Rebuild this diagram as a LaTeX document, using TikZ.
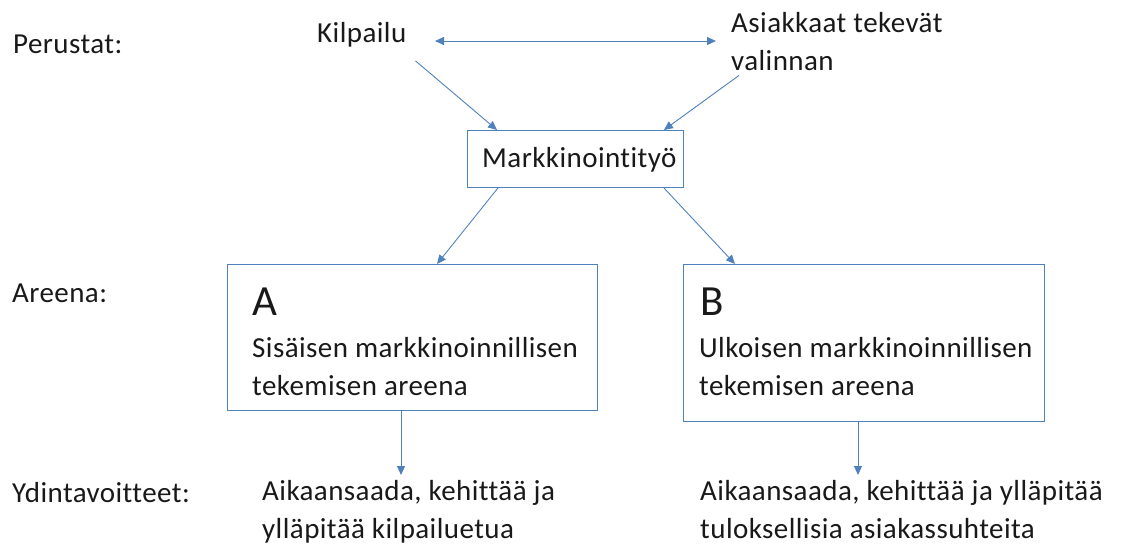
\documentclass[tikz,border=0pt]{standalone}
\usepackage{fontspec}
\setmainfont{Carlito}[Ligatures={NoCommon},LetterSpace=1.5]
\usetikzlibrary{arrows.meta,calc}
\definecolor{lineblue}{RGB}{79,129,189}
\definecolor{txt}{RGB}{25,25,25}
\begin{document}
\begin{tikzpicture}[x=1pt,y=-1pt,
  lbl/.style={anchor=base west,inner sep=0pt,text=txt,align=left,
    font=\fontsize{29}{37.5}\selectfont},
  big/.style={anchor=base west,inner sep=0pt,text=txt,
    font=\fontsize{43}{50}\selectfont},
  frame/.style={draw=lineblue,line width=0.9pt,rectangle,inner sep=0pt,anchor=north west},
  conn/.style={draw=lineblue,line width=0.9pt,-{Triangle[length=9pt,width=8pt]}},
  dconn/.style={draw=lineblue,line width=0.9pt,{Triangle[length=9pt,width=8pt]}-{Triangle[length=9pt,width=8pt]}}]
\useasboundingbox (0,0) rectangle (1121,547);
% row labels
\node[lbl] (perustat) at (13,53) {Perustat:};
\node[lbl] (areena) at (12,302) {Areena:};
\node[lbl] (ydin) at (12,502) {Ydintavoitteet:};
% top
\node[lbl] (kil) at (317,42) {Kilpailu};
\node[lbl] (asi) at (731,70) {Asiakkaat tekevät\\valinnan};
% boxes
\node[frame,minimum width=216pt,minimum height=57pt] (mk) at (467,130) {};
\node[lbl] (mkt) at (482,167) {Markkinointityö};
\node[frame,minimum width=370pt,minimum height=146pt] (boxA) at (227,264) {};
\node[frame,minimum width=361pt,minimum height=157pt] (boxB) at (683,264) {};
\node[big] (la) at (252,315) {A};
\node[big] (lb) at (700,315) {B};
\node[lbl] (ta) at (252,395) {Sisäisen markkinoinnillisen\\tekemisen areena};
\node[lbl] (tb) at (699,395) {Ulkoisen markkinoinnillisen\\tekemisen areena};
% goals
\node[lbl] (ga) at (262,538) {Aikaansaada, kehittää ja\\ylläpitää kilpailuetua};
\node[lbl] (gb) at (700,538) {Aikaansaada, kehittää ja ylläpitää\\tuloksellisia asiakassuhteita};
% connectors
\coordinate (dl) at (435,41);
\coordinate (dr) at (716,41);
\draw[dconn] (dl) -- (dr);
\draw[conn] ([shift={(9pt,-14pt)}]kil.south east) -- ([xshift=30pt]mk.north west);
\draw[conn] ([shift={(8pt,-5pt)}]asi.south west) -- ([xshift=-20pt]mk.north east);
\draw[conn] ([xshift=31pt]mk.south west) -- ([xshift=210pt]boxA.north west);
\draw[conn] ([xshift=-20pt]mk.south east) -- ([xshift=52pt]boxB.north west);
\draw[conn] ([xshift=174pt]boxA.south west) -- ([xshift=174pt]boxA.south west |- 0,475);
\draw[conn] ([xshift=175pt]boxB.south west) -- ([xshift=175pt]boxB.south west |- 0,475);
\end{tikzpicture}
\end{document}
